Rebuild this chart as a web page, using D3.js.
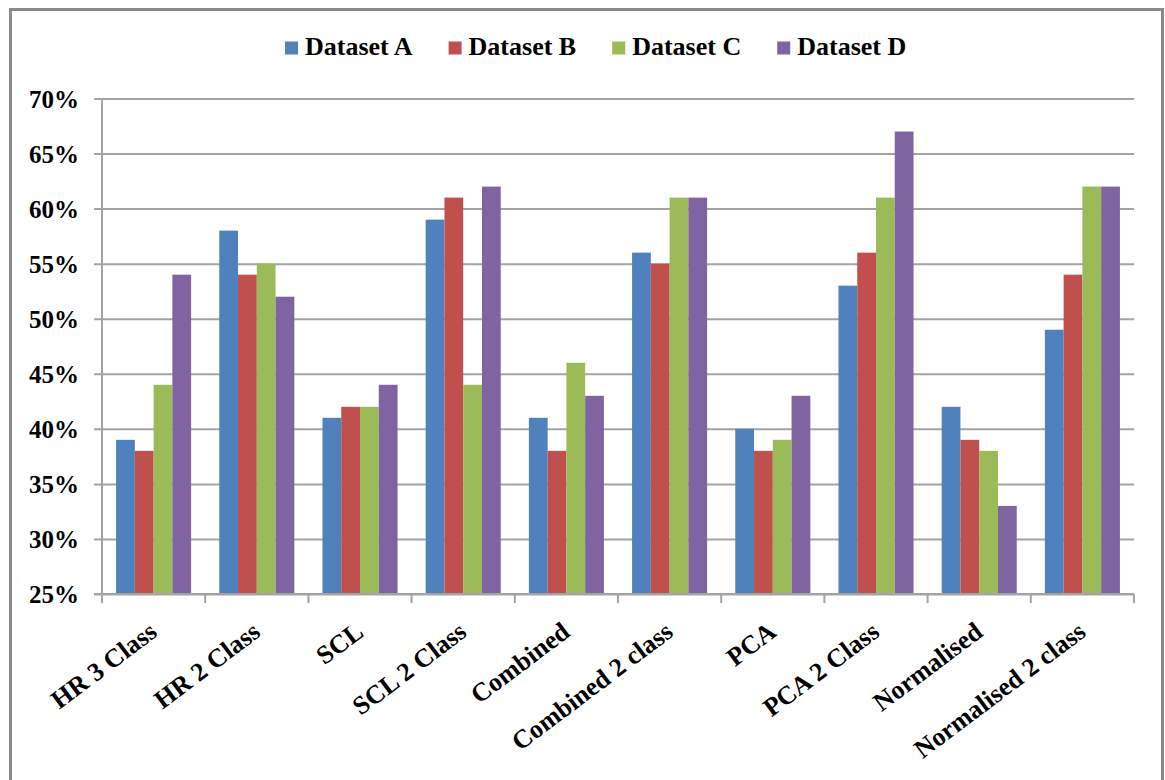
<!DOCTYPE html>
<html>
<head>
<meta charset="utf-8">
<script src="https://cdn.jsdelivr.net/npm/d3@7"></script>
<style>
  html, body { margin: 0; padding: 0; background: #ffffff; }
  svg { display: block; }
  text { font-family: "Liberation Serif", "Times New Roman", serif; font-weight: bold; fill: #000; }
</style>
</head>
<body>
<svg id="chart" width="1165" height="780"></svg>
<script>
// Categories along the x axis
const categories = [
  "HR 3 Class", "HR 2 Class", "SCL", "SCL 2 Class", "Combined",
  "Combined 2 class", "PCA", "PCA 2 Class", "Normalised", "Normalised 2 class"
];

// Series names and colours
const seriesNames = ["Dataset A", "Dataset B", "Dataset C", "Dataset D"];
const seriesColors = ["#4F81BD", "#C0504D", "#9BBB59", "#8064A2"];

// Accuracy per category for each dataset
const datasetA = [0.39, 0.58, 0.41, 0.59, 0.41, 0.56, 0.40, 0.53, 0.42, 0.49];
const datasetB = [0.38, 0.54, 0.42, 0.61, 0.38, 0.55, 0.38, 0.56, 0.39, 0.54];
const datasetC = [0.44, 0.55, 0.42, 0.44, 0.46, 0.61, 0.39, 0.61, 0.38, 0.62];
const datasetD = [0.54, 0.52, 0.44, 0.62, 0.43, 0.61, 0.43, 0.67, 0.33, 0.62];

// Y axis tick values
const yTicks = [0.25, 0.30, 0.35, 0.40, 0.45, 0.50, 0.55, 0.60, 0.65, 0.70];

const seriesValues = [datasetA, datasetB, datasetC, datasetD];

const svg = d3.select("#chart");

// Outer frame
svg.append("rect")
  .attr("x", 10.5).attr("y", 9.5)
  .attr("width", 1152).attr("height", 800)
  .attr("fill", "none")
  .attr("stroke", "#8a8a8a")
  .attr("stroke-width", 3);

const plot = { left: 102, right: 1134, top: 98.5, bottom: 594 };

const x0 = d3.scaleBand()
  .domain(categories)
  .range([plot.left, plot.right])
  .padding(0);

// 150% gap between groups: 4 bars + 1.5 bar widths per category
const barW = x0.bandwidth() / 5.5;
const groupOffset = barW * 0.75;
const x1 = d3.scaleBand()
  .domain(seriesNames)
  .range([groupOffset, groupOffset + barW * 4])
  .padding(0);

const y = d3.scaleLinear()
  .domain([0.25, 0.70])
  .range([plot.bottom, plot.top]);

const gridColor = "#a3a3a3";

// Horizontal gridlines with outside tick stubs
svg.append("g")
  .attr("transform", `translate(${plot.right},0)`)
  .call(g => {
    g.call(d3.axisLeft(y).tickValues(yTicks).tickSize(plot.right - plot.left + 8).tickFormat(""));
    g.select(".domain").remove();
    g.selectAll(".tick line").attr("stroke", gridColor).attr("stroke-width", 2);
  });

// Y tick labels
svg.append("g")
  .selectAll("text")
  .data(yTicks)
  .join("text")
  .attr("x", 79)
  .attr("y", d => y(d) + 9)
  .attr("text-anchor", "end")
  .attr("font-size", 25)
  .text(d3.format(".0%"));

// Bars
const groups = svg.append("g")
  .selectAll("g")
  .data(categories)
  .join("g")
  .attr("transform", d => `translate(${x0(d)},0)`);

groups.selectAll("rect")
  .data((d, i) => seriesNames.map((s, j) => ({ series: s, value: seriesValues[j][i], color: seriesColors[j] })))
  .join("rect")
  .attr("x", d => x1(d.series))
  .attr("width", x1.bandwidth())
  .attr("y", d => y(d.value))
  .attr("height", d => y(0.25) - y(d.value))
  .attr("fill", d => d.color);

// Left axis line
svg.append("line")
  .attr("x1", plot.left).attr("x2", plot.left)
  .attr("y1", plot.top).attr("y2", plot.bottom)
  .attr("stroke", gridColor).attr("stroke-width", 2);

// Category axis with boundary ticks
const xAxisG = svg.append("g");
xAxisG.append("line")
  .attr("x1", plot.left - 8).attr("x2", plot.right)
  .attr("y1", plot.bottom).attr("y2", plot.bottom)
  .attr("stroke", gridColor).attr("stroke-width", 2);
const boundaries = categories.map(c => x0(c)).concat([plot.right]);
xAxisG.selectAll("line.tk")
  .data(boundaries)
  .join("line")
  .attr("class", "tk")
  .attr("x1", d => d).attr("x2", d => d)
  .attr("y1", plot.bottom).attr("y2", plot.bottom + 9)
  .attr("stroke", gridColor).attr("stroke-width", 2);

// Rotated category labels
xAxisG.selectAll("text")
  .data(categories)
  .join("text")
  .attr("text-anchor", "end")
  .attr("font-size", 26)
  .attr("transform", d => `translate(${x0(d) + x0.bandwidth() / 2 + 5},${635}) rotate(-37)`)
  .text(d => d);

// Legend
const legend = svg.append("g");
let lx = 285;
seriesNames.forEach((name, i) => {
  legend.append("rect")
    .attr("x", lx).attr("y", 41.5)
    .attr("width", 13).attr("height", 13)
    .attr("fill", seriesColors[i]);
  const t = legend.append("text")
    .attr("x", lx + 20).attr("y", 55)
    .attr("font-size", 26)
    .text(name);
  lx += 20 + t.node().getComputedTextLength() + 36;
});
</script>
</body>
</html>
